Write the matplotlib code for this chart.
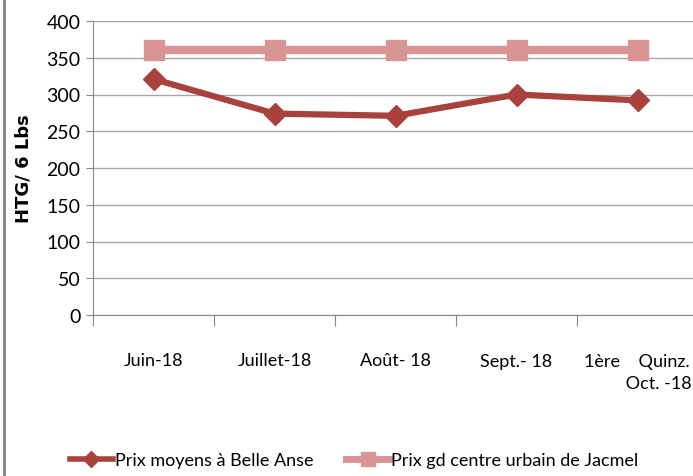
import matplotlib.pyplot as plt
from matplotlib.lines import Line2D

# Data
months = ["Juin-18", "Juillet-18", "Août- 18", "Sept.- 18", "1ère    Quinz.\n         Oct. -18"]
belle_anse = [321, 274, 271, 300, 292]
jacmel = [360, 360, 360, 360, 360]

plt.rcParams["font.family"] = ["Lato", "DejaVu Sans"]

fig = plt.figure(figsize=(6.93, 4.77), dpi=100)
ax = fig.add_axes([93 / 693, 1 - 316 / 477, 605 / 693, 294 / 477])

x = list(range(len(months)))
c_belle = "#A9413D"
c_jac = "#D99594"

ax.plot(x, jacmel, color=c_jac, lw=6, marker="s", ms=15, zorder=3)
ax.plot(x, belle_anse, color=c_belle, lw=4.5, marker="D", ms=11, zorder=4)

ax.set_xlim(-0.5, 4.5)
ax.set_ylim(0, 400)
ax.set_yticks(range(0, 401, 50))
ax.yaxis.grid(True, color="#A6A6A6", lw=1)
ax.set_axisbelow(True)

ax.set_xticks([i - 0.5 for i in range(5)])
ax.set_xticklabels([])
ax.set_xticks(x, minor=True)
ax.set_xticklabels(months, minor=True, fontsize=13, linespacing=1.5)
ax.tick_params(axis="x", which="minor", length=0, pad=27)
ax.tick_params(axis="x", which="major", length=8, color="#888888", direction="out")
ax.tick_params(axis="y", length=5, color="#888888", labelsize=14, pad=4)
for lbl in ax.get_xticklabels(minor=True):
    lbl.set_verticalalignment("top")
last = ax.get_xticklabels(minor=True)[-1]
last.set_horizontalalignment("center")
last.set_multialignment("left")

for s in ["top", "right"]:
    ax.spines[s].set_visible(False)
for s in ["left", "bottom"]:
    ax.spines[s].set_color("#888888")

ax.set_ylabel("HTG/ 6 Lbs", fontsize=13, fontweight="bold", labelpad=10, family="DejaVu Sans")

handles = [
    Line2D([], [], color=c_belle, lw=4, marker="D", ms=8),
    Line2D([], [], color=c_jac, lw=5, marker="s", ms=10),
]
fig.legend(handles, ["Prix moyens à Belle Anse", "Prix gd centre urbain de Jacmel"],
           loc="center", bbox_to_anchor=(354 / 693, 1 - 461 / 477), ncol=2,
           frameon=False, fontsize=13, handlelength=2.4, handletextpad=0.1, columnspacing=1.8)

# left border of the original frame
fig.add_artist(Line2D([4 / 693, 4 / 693], [0, 1], color="#808080", lw=2))

fig.savefig("out.png", dpi=100)
